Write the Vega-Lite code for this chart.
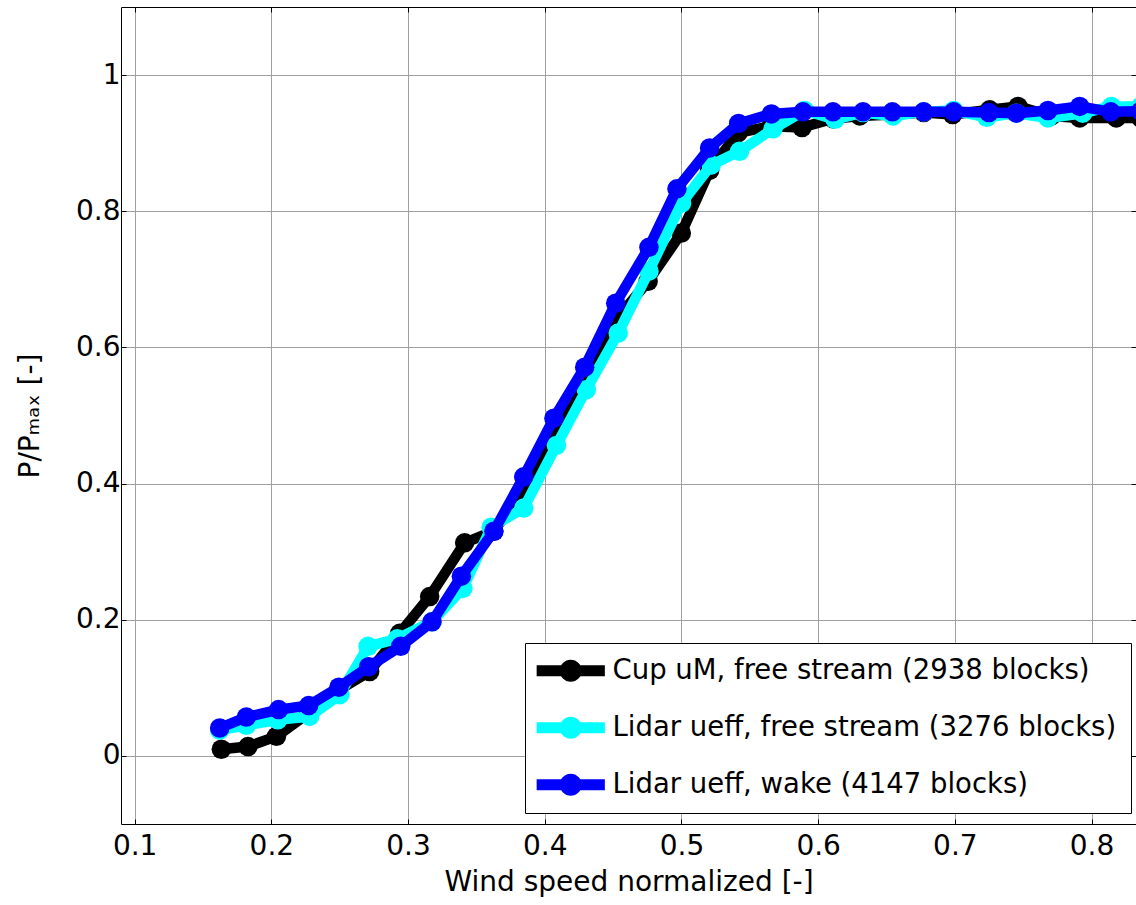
{
  "$schema": "https://vega.github.io/schema/vega-lite/v6.json",
  "width": 1015,
  "height": 817,
  "autosize": {"type": "none"},
  "padding": {"left": 121, "top": 7, "right": 0, "bottom": 81},
  "background": "white",
  "config": {
    "view": {"stroke": null},
    "font": "DejaVu Sans",
    "axis": {
      "domainColor": "black", "domainWidth": 1,
      "tickColor": "black", "tickWidth": 1,
      "gridColor": "#a0a0a0", "gridWidth": 1, "gridOpacity": 1,
      "labelFont": "DejaVu Sans", "labelFontSize": 28, "labelColor": "black",
      "titleFont": "DejaVu Sans", "titleFontSize": 28, "titleFontWeight": "normal", "titleColor": "black"
    }
  },
  "data": {"values": [
    {"s":"Cup","x":0.1634,"y":0.0098},{"s":"Cup","x":0.1829,"y":0.0137},{"s":"Cup","x":0.2037,"y":0.0287},{"s":"Cup","x":0.2273,"y":0.063},
    {"s":"Cup","x":0.2494,"y":0.097},{"s":"Cup","x":0.2719,"y":0.124},{"s":"Cup","x":0.2939,"y":0.18},{"s":"Cup","x":0.3158,"y":0.234},
    {"s":"Cup","x":0.3414,"y":0.313},{"s":"Cup","x":0.3626,"y":0.33},{"s":"Cup","x":0.3846,"y":0.39},{"s":"Cup","x":0.4067,"y":0.475},
    {"s":"Cup","x":0.4292,"y":0.555},{"s":"Cup","x":0.4519,"y":0.64},{"s":"Cup","x":0.4756,"y":0.697},{"s":"Cup","x":0.4999,"y":0.768},
    {"s":"Cup","x":0.5206,"y":0.86},{"s":"Cup","x":0.5413,"y":0.915},{"s":"Cup","x":0.5658,"y":0.925},{"s":"Cup","x":0.5882,"y":0.923},
    {"s":"Cup","x":0.6108,"y":0.936},{"s":"Cup","x":0.6304,"y":0.94},{"s":"Cup","x":0.6543,"y":0.942},{"s":"Cup","x":0.6772,"y":0.945},
    {"s":"Cup","x":0.6984,"y":0.942},{"s":"Cup","x":0.7254,"y":0.949},{"s":"Cup","x":0.7462,"y":0.954},{"s":"Cup","x":0.7706,"y":0.94},
    {"s":"Cup","x":0.7913,"y":0.937},{"s":"Cup","x":0.8181,"y":0.937},{"s":"Cup","x":0.836,"y":0.937},
    {"s":"Free","x":0.1622,"y":0.038},{"s":"Free","x":0.1817,"y":0.045},{"s":"Free","x":0.2047,"y":0.053},{"s":"Free","x":0.228,"y":0.058},
    {"s":"Free","x":0.2501,"y":0.09},{"s":"Free","x":0.2707,"y":0.161},{"s":"Free","x":0.2921,"y":0.172},{"s":"Free","x":0.3175,"y":0.197},
    {"s":"Free","x":0.3401,"y":0.246},{"s":"Free","x":0.3608,"y":0.336},{"s":"Free","x":0.3846,"y":0.364},{"s":"Free","x":0.4085,"y":0.456},
    {"s":"Free","x":0.4304,"y":0.538},{"s":"Free","x":0.4537,"y":0.621},{"s":"Free","x":0.4762,"y":0.712},{"s":"Free","x":0.5001,"y":0.812},
    {"s":"Free","x":0.5218,"y":0.868},{"s":"Free","x":0.5425,"y":0.888},{"s":"Free","x":0.567,"y":0.921},{"s":"Free","x":0.5901,"y":0.948},
    {"s":"Free","x":0.6123,"y":0.935},{"s":"Free","x":0.6328,"y":0.945},{"s":"Free","x":0.6548,"y":0.94},{"s":"Free","x":0.6772,"y":0.946},
    {"s":"Free","x":0.6991,"y":0.948},{"s":"Free","x":0.7234,"y":0.938},{"s":"Free","x":0.745,"y":0.944},{"s":"Free","x":0.7681,"y":0.937},
    {"s":"Free","x":0.7935,"y":0.944},{"s":"Free","x":0.8145,"y":0.954},{"s":"Free","x":0.836,"y":0.954},
    {"s":"Wake","x":0.1622,"y":0.041},{"s":"Wake","x":0.1817,"y":0.057},{"s":"Wake","x":0.2053,"y":0.068},{"s":"Wake","x":0.2273,"y":0.074},
    {"s":"Wake","x":0.2494,"y":0.101},{"s":"Wake","x":0.2712,"y":0.131},{"s":"Wake","x":0.2946,"y":0.161},{"s":"Wake","x":0.3175,"y":0.197},
    {"s":"Wake","x":0.339,"y":0.264},{"s":"Wake","x":0.3628,"y":0.33},{"s":"Wake","x":0.3846,"y":0.41},{"s":"Wake","x":0.4067,"y":0.496},
    {"s":"Wake","x":0.4292,"y":0.571},{"s":"Wake","x":0.4519,"y":0.665},{"s":"Wake","x":0.4762,"y":0.747},{"s":"Wake","x":0.4967,"y":0.833},
    {"s":"Wake","x":0.5206,"y":0.893},{"s":"Wake","x":0.5418,"y":0.929},{"s":"Wake","x":0.5658,"y":0.943},{"s":"Wake","x":0.5889,"y":0.946},
    {"s":"Wake","x":0.6108,"y":0.946},{"s":"Wake","x":0.6328,"y":0.946},{"s":"Wake","x":0.6543,"y":0.946},{"s":"Wake","x":0.6772,"y":0.946},
    {"s":"Wake","x":0.6991,"y":0.946},{"s":"Wake","x":0.7249,"y":0.945},{"s":"Wake","x":0.745,"y":0.944},{"s":"Wake","x":0.7681,"y":0.948},
    {"s":"Wake","x":0.7913,"y":0.954},{"s":"Wake","x":0.814,"y":0.946},{"s":"Wake","x":0.836,"y":0.947}
  ]},
  "layer": [
    {
      "encoding": {
        "x": {"field": "x", "type": "quantitative",
          "scale": {"domain": [0.09, 0.8325], "nice": false, "zero": false},
          "axis": {"orient": "bottom", "values": [0.1,0.2,0.3,0.4,0.5,0.6,0.7,0.8], "format": "~g", "grid": true,
                   "tickSize": -5, "labelPadding": 13, "title": "Wind speed normalized [-]", "titlePadding": 8}},
        "y": {"field": "y", "type": "quantitative",
          "scale": {"domain": [-0.1, 1.1], "nice": false, "zero": false},
          "axis": {"orient": "left", "values": [0,0.2,0.4,0.6,0.8,1], "format": "~g", "grid": true,
                   "tickSize": -5, "labelPadding": 6, "title": "P/Pₘₐₓ [-]", "titlePadding": 31}}
      },
      "layer": [
        {"transform": [{"filter": "datum.s === 'Cup'"}],
         "mark": {"type": "line", "color": "black", "strokeWidth": 10.5, "strokeJoin": "round", "clip": true}},
        {"transform": [{"filter": "datum.s === 'Cup'"}],
         "mark": {"type": "point", "shape": "circle", "filled": true, "size": 380, "opacity": 1, "clip": true},
         "encoding": {"color": {"field": "s", "type": "nominal",
           "scale": {"domain": ["Cup", "Free", "Wake"], "range": ["#000000", "#00ffff", "#0000ff"]},
           "legend": {"orient": "none", "legendX": 404, "legendY": 636, "title": null,
             "symbolType": "M-3.1,-0.5H3.1V0.5H-3.1Z M1,0A1,1,0,1,1,-1,0A1,1,0,1,1,1,0Z",
             "symbolSize": 484, "symbolStrokeWidth": 0, "symbolOffset": 18, "symbolOpacity": 1,
             "labelOffset": 28, "labelFont": "DejaVu Sans", "labelFontSize": 27.5, "labelColor": "black", "labelLimit": 1000,
             "rowPadding": 28, "padding": 14, "strokeColor": "black", "fillColor": "white",
             "labelExpr": "datum.value === 'Cup' ? 'Cup uM, free stream (2938 blocks)' : datum.value === 'Free' ? 'Lidar ueff, free stream (3276 blocks)' : 'Lidar ueff, wake (4147 blocks)'"}}}},
        {"transform": [{"filter": "datum.s === 'Free'"}],
         "mark": {"type": "line", "color": "#00ffff", "strokeWidth": 10.5, "strokeJoin": "round", "clip": true}},
        {"transform": [{"filter": "datum.s === 'Free'"}],
         "mark": {"type": "point", "shape": "circle", "filled": true, "size": 380, "opacity": 1, "clip": true},
         "encoding": {"color": {"field": "s", "type": "nominal"}}},
        {"transform": [{"filter": "datum.s === 'Wake'"}],
         "mark": {"type": "line", "color": "#0000ff", "strokeWidth": 10.5, "strokeJoin": "round", "clip": true}},
        {"transform": [{"filter": "datum.s === 'Wake'"}],
         "mark": {"type": "point", "shape": "circle", "filled": true, "size": 380, "opacity": 1, "clip": true},
         "encoding": {"color": {"field": "s", "type": "nominal"}}}
      ]
    },
    {
      "mark": {"type": "point", "opacity": 0},
      "encoding": {
        "x": {"field": "x", "type": "quantitative",
          "axis": {"orient": "top", "values": [0.1,0.2,0.3,0.4,0.5,0.6,0.7,0.8], "labels": false, "grid": false, "tickSize": -5, "title": null}},
        "y": {"field": "y", "type": "quantitative",
          "axis": {"orient": "right", "values": [0,0.2,0.4,0.6,0.8,1], "labels": false, "grid": false, "tickSize": -5, "title": null}}
      }
    }
  ],
  "resolve": {"axis": {"x": "independent", "y": "independent"}}
}
